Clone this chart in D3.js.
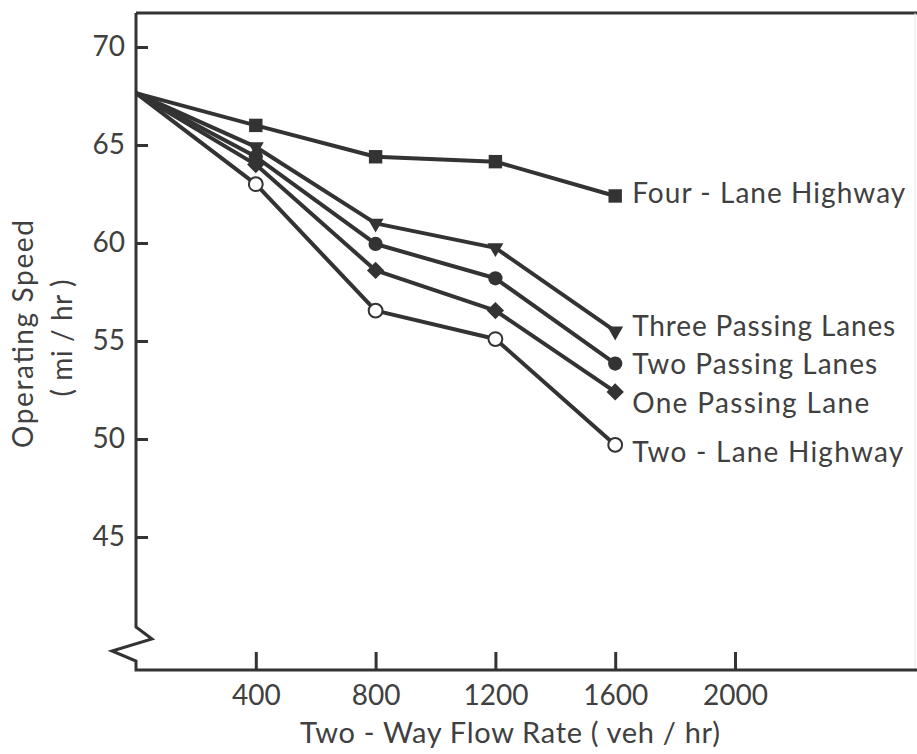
<!DOCTYPE html>
<meta charset="utf-8">
<script src="https://d3js.org/d3.v7.min.js"></script>
<style>
  body { margin: 0; background: #fff; }
  text { font-family: Lato, "Noto Sans", sans-serif; fill: #404040; }
</style>
<div id="chart"></div>
<script>

// flow rates (veh/hr) and operating speeds (mi/hr)
var flows = [0, 400, 800, 1200, 1600];
var fourLane   = [67.65, 66.0, 64.4, 64.15, 62.4];
var threePass  = [67.65, 64.9, 61.0, 59.75, 55.5];
var twoPass    = [67.65, 64.4, 59.95, 58.2, 53.85];
var onePass    = [67.65, 64.0, 58.6, 56.55, 52.4];
var twoLane    = [67.65, 63.0, 56.55, 55.1, 49.7];
var names = ["Four - Lane Highway", "Three Passing Lanes", "Two Passing Lanes",
             "One Passing Lane", "Two - Lane Highway"];
var xTicks = [400, 800, 1200, 1600, 2000];
var yTicks = [45, 50, 55, 60, 65, 70];

var W = 917, H = 754;
var ink = "#333";

var svg = d3.select("#chart").append("svg")
    .attr("width", W)
    .attr("height", H);

var x = d3.scaleLinear().domain([0, 2000]).range([136, 735]);
var y = d3.scaleLinear().domain([50, 70]).range([439, 47]);

var yTop = 13, yBottom = 670;

// frame: top and right edge
svg.append("line")
    .attr("x1", x(0)).attr("x2", W).attr("y1", yTop).attr("y2", yTop)
    .attr("stroke", ink).attr("stroke-width", 3);
svg.append("line")
    .attr("x1", 915).attr("x2", 915).attr("y1", yTop).attr("y2", yBottom)
    .attr("stroke", "#e6e6e6").attr("stroke-width", 1);

// y axis with a break near the bottom
var x0 = x(0);
svg.append("path")
    .attr("d", "M" + x0 + "," + yTop + "L" + x0 + "," + 627 +
               "L" + (x0 + 16) + "," + 639 + "L" + (x0 - 24) + "," + 651 +
               "L" + x0 + "," + 661 + "L" + x0 + "," + yBottom + "L" + W + "," + yBottom)
    .attr("fill", "none")
    .attr("stroke", ink)
    .attr("stroke-width", 3);

var yAxis = svg.append("g")
    .attr("transform", "translate(" + x0 + ",0)")
    .call(d3.axisLeft(y).tickValues(yTicks).tickSizeInner(-12).tickSizeOuter(0).tickPadding(11));
yAxis.select(".domain").remove();

var xAxis = svg.append("g")
    .attr("transform", "translate(0," + yBottom + ")")
    .call(d3.axisBottom(x).tickValues(xTicks).tickFormat(d3.format("d"))
      .tickSizeInner(-18).tickSizeOuter(0).tickPadding(15));
xAxis.select(".domain").remove();

svg.selectAll(".tick line").attr("stroke", ink).attr("stroke-width", 3);
svg.selectAll(".tick text")
    .attr("fill", "#404040")
    .style("font-size", "28px")
    .style("font-family", "Lato, 'Noto Sans', sans-serif");

// axis titles
svg.append("text")
    .attr("x", 510).attr("y", 743)
    .attr("text-anchor", "middle")
    .attr("textLength", 420).attr("lengthAdjust", "spacing")
    .style("font-size", "29px")
    .text("Two - Way Flow Rate ( veh / hr)");

svg.append("text")
    .attr("transform", "translate(33,334) rotate(-90)")
    .attr("text-anchor", "middle")
    .attr("textLength", 228).attr("lengthAdjust", "spacing")
    .style("font-size", "28px")
    .text("Operating Speed");

svg.append("text")
    .attr("transform", "translate(72,338) rotate(-90)")
    .attr("text-anchor", "middle")
    .attr("textLength", 117).attr("lengthAdjust", "spacing")
    .style("font-size", "28px")
    .text("( mi / hr )");

// series
var series = [fourLane, threePass, twoPass, onePass, twoLane];
var shapes = [
  { type: d3.symbolSquare, size: 180, rot: 0, fill: ink },
  { type: d3.symbolTriangle, size: 110, rot: 180, fill: ink },
  { type: d3.symbolCircle, size: 160, rot: 0, fill: ink },
  { type: d3.symbolSquare, size: 150, rot: 45, fill: ink },
  { type: d3.symbolCircle, size: 150, rot: 0, fill: "#fff" }
];
var labelDy = [7, 5, 10, 21, 17];
var labelLen = [273, 263, 245, 237, 271];

var line = d3.line()
    .x(function(d, i) { return x(flows[i]); })
    .y(function(d) { return y(d); });

series.forEach(function(vals, s) {
  svg.append("path")
      .datum(vals)
      .attr("d", line)
      .attr("fill", "none")
      .attr("stroke", ink)
      .attr("stroke-width", 4)
      .attr("stroke-linejoin", "round");
});

series.forEach(function(vals, s) {
  var sh = shapes[s];
  svg.selectAll(".m" + s)
      .data(vals.slice(1))
      .enter().append("path")
      .attr("class", "m" + s)
      .attr("d", d3.symbol().type(sh.type).size(sh.size))
      .attr("transform", function(d, i) {
        return "translate(" + x(flows[i + 1]) + "," + y(d) + ") rotate(" + sh.rot + ")";
      })
      .attr("fill", sh.fill)
      .attr("stroke", ink)
      .attr("stroke-width", sh.fill == "#fff" ? 2 : 0);

  var last = vals.length - 1;
  svg.append("text")
      .attr("x", x(flows[last]) + 17)
      .attr("y", y(vals[last]) + labelDy[s])
      .attr("textLength", labelLen[s]).attr("lengthAdjust", "spacing")
      .style("font-size", "28px")
      .text(names[s]);
});

</script>
